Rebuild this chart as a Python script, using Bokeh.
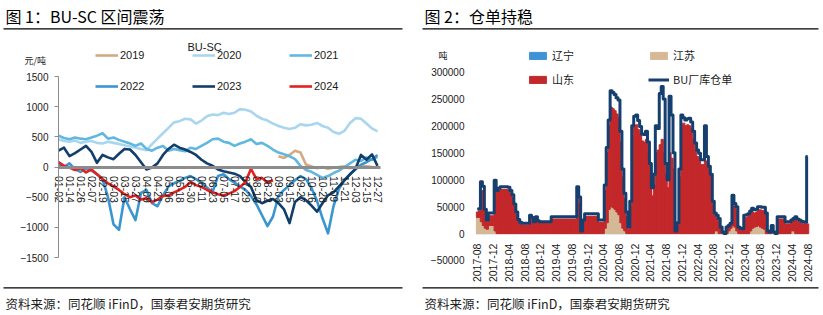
import math
from bokeh.plotting import figure
from bokeh.models import (ColumnDataSource, Range1d, FixedTicker, Legend, LegendItem,
                          Label, BoxAnnotation, LinearAxis, BasicTickFormatter)
from bokeh.layouts import row
from bokeh.embed import file_html
from bokeh.resources import INLINE

CJK = "Noto Sans CJK SC"
NUM = "Liberation Sans"

# ---------------- Figure 1 data: BU-SC spread (yuan/ton) ----------------
day_labels = ["01-02", "01-14", "01-26", "02-07", "02-19", "03-03", "03-15", "03-27",
              "04-09", "04-21", "05-06", "05-18", "05-30", "06-11", "06-23", "07-05",
              "07-17", "07-29", "08-10", "08-22", "09-03", "09-15", "09-27", "10-16",
              "10-28", "11-09", "11-21", "12-03", "12-15", "12-27"]
label_every = 8      # trading-day index step between tick labels
sample_every = 4     # trading-day index step between values below

s2019 = [180, 150, 200, 270, 240, 40, 10, -20, 0, -30,
         -10, 0, 10, -20, 0, 20, 10, 0, -10]
s2019_start = 40     # first sample number of 2019 series

s2020 = [460, 430, 420, 440, 400, 420, 430, 400, 390, 420,
         400, 380, 360, 340, 320, 300, 280, 380, 470, 560,
         650, 740, 760, 800, 790, 720, 770, 840, 870, 860,
         900, 880, 900, 960, 950, 920, 850, 800, 770, 720,
         680, 650, 630, 650, 710, 690, 700, 730, 680, 650,
         580, 550, 600, 730, 810, 800, 720, 640, 590]
s2021 = [520, 480, 460, 490, 470, 460, 490, 520, 560, 470,
         490, 450, 420, 390, 350, 390, 300, 270, 320, 350,
         270, 300, 280, 260, 320, 300, 350, 400, 460, 470,
         420, 400, 350, 390, 420, 460, 380, 400, 350, 290,
         240, 210, 180, 130, 20, -50, -80, -130, -180, -150,
         -100, -60, 0, 60, 120, 100, 160, 120, 170]
s2022 = [30, 0, 60, -40, -80, -30, -60, -120, -200, -500,
         -950, -1040, -500, -700, -880, -430, -380, -600, -650, -470,
         -320, -270, -230, -180, -150, -200, -270, -340, -420, -150,
         -120, -200, -260, -320, -380, -480, -620, -800, -980, -820,
         -480, -380, -300, -220, -150, -200, -350, -560, -850, -1100,
         -650, -360, -210, -120, -40, 40, 80, 130, 200]
s2023 = [270, 320, 180, 230, 290, 350, 250, 70, 200, 160,
         130, 220, 300, 290, 200, 80, -40, -10, 60, 200,
         300, 370, 320, 290, 250, 200, 120, 60, 20, -40,
         -70, -90, -110, -150, -250, -330, -550, -600, -560, -530,
         -600, -700, -930, -580, -500, -550, -640, -740, -600, -470,
         -420, -320, -220, -120, -30, 200, 120, 210, 20]
s2024 = [80, 20, -10, -50, -20, -90, -40, -120, -200, -270,
         -320, -380, -450, -500, -470, -540, -520, -580, -540, -480,
         -470, -420, -380, -330, -250, -300, -330, -380, -420, -450,
         -470, -440, -400, -330, -250, -30, -200, -180, -260, -220]
y1_ticks = [-1500, -1000, -500, 0, 500, 1000, 1500]

# ---------------- Figure 2 data: BU warehouse receipts (tons), half-monthly ----------------
month_labels = ["2017-08", "2017-12", "2018-04", "2018-08", "2018-12", "2019-04",
                "2019-08", "2019-12", "2020-04", "2020-08", "2020-12", "2021-04",
                "2021-08", "2021-12", "2022-04", "2022-08", "2022-12", "2023-04",
                "2023-08", "2023-12", "2024-04", "2024-08"]
months_per_label = 4
liaoning = [0, 0, 0, 0, 0, 0, 0, 0, 0, 0,
            0, 0, 0, 0, 0, 0, 0, 0, 0, 0,
            0, 0, 0, 0, 0, 0, 0, 0, 0, 0,
            0, 0, 0, 0, 0, 0, 0, 0, 0, 0,
            0, 0, 0, 0, 0, 0, 0, 0, 0, 0,
            0, 0, 0, 0, 0, 0, 0, 0, 0, 0,
            0, 0, 0, 0, 0, 0, 0, 0, 0, 0,
            0, 0, 0, 0, 0, 0, 0, 0, 0, 0,
            0, 0, 0, 0, 0, 0, 0, 0, 0, 0,
            0, 0, 0, 0, 0, 0, 0, 0, 0, 0,
            0, 0, 0, 0, 0, 0, 0, 0, 0, 0,
            0, 0, 0, 0, 0, 0, 0, 0, 0, 0,
            0, 0, 0, 0, 0, 0, 0, 0, 0, 0,
            0, 0, 0, 0, 0, 0, 0, 0, 0, 0,
            0, 0, 0, 0, 0, 0, 0, 0, 0, 0,
            0, 0, 0, 0, 0, 0, 0, 0, 0, 0,
            0, 0, 0, 0, 0, 0, 0, 0, 0]
jiangsu = [30000, 30000, 22000, 15000, 10000, 8000, 15000, 15000, 15000, 5000,
           0, 0, 0, 0, 0, 0, 0, 0, 0, 0,
           0, 0, 0, 0, 0, 0, 0, 0, 0, 0,
           0, 0, 0, 0, 0, 0, 0, 0, 0, 0,
           0, 0, 0, 0, 0, 0, 0, 0, 0, 0,
           0, 0, 0, 0, 0, 0, 0, 0, 0, 0,
           0, 0, 0, 0, 0, 10000, 20000, 45000, 50000, 48000,
           45000, 40000, 35000, 20000, 10000, 5000, 0, 0, 0, 0,
           0, 0, 0, 0, 0, 0, 0, 0, 0, 0,
           0, 0, 0, 0, 0, 0, 0, 0, 0, 0,
           0, 0, 0, 0, 0, 0, 0, 0, 0, 0,
           0, 0, 0, 0, 0, 0, 0, 0, 0, 0,
           0, 5000, 5000, 0, 0, 0, 0, 0, 5000, 10000,
           15000, 12000, 5000, 0, 0, 0, 0, 0, 0, 5000,
           10000, 12000, 13000, 15000, 12000, 10000, 8000, 0, 0, 0,
           3000, 0, 0, 0, 0, 0, 0, 0, 0, 0,
           5000, 5000, 0, 0, 0, 0, 0, 0, 0]
shandong = [10000, 12000, 58000, 65000, 30000, 14000, 18000, 18000, 18000, 87000,
            76000, 80000, 82000, 82000, 82000, 82000, 81000, 75000, 67000, 50000,
            35000, 22000, 17000, 16000, 16000, 16000, 16000, 28000, 26000, 19000,
            27000, 21000, 19000, 19000, 19000, 19000, 19000, 19000, 27000, 27000,
            27000, 27000, 27000, 27000, 27000, 27000, 27000, 27000, 27000, 27000,
            27000, 70000, 55000, 3000, 20000, 32000, 32000, 32000, 32000, 32000,
            32000, 32000, 21000, 21000, 21000, 70000, 130000, 155000, 185000, 184000,
            183000, 182000, 180000, 150000, 95000, 60000, 32000, 8000, 50000, 180000,
            200000, 202000, 193000, 185000, 172000, 170000, 175000, 150000, 110000, 70000,
            90000, 150000, 155000, 165000, 175000, 150000, 110000, 85000, 150000, 140000,
            120000, 3000, 15000, 105000, 200000, 205000, 200000, 202000, 200000, 195000,
            175000, 155000, 143000, 138000, 128000, 128000, 135000, 130000, 115000, 100000,
            52000, 27000, 23000, 22000, 8000, 1000, 0, 8000, 6000, 5000,
            47000, 38000, 39000, 9000, 7000, 6000, 29000, 30000, 32000, 32000,
            30000, 26000, 27000, 29000, 32000, 33000, 35000, 33000, 3000, 1000,
            9000, 1000, 0, 27000, 27000, 27000, 27000, 18000, 18000, 18000,
            16000, 19000, 27000, 23000, 21000, 19000, 18000, 18000, 18000]
bu_total = [45000, 46000, 96000, 88000, 45000, 25000, 38000, 38000, 38000, 99000,
            80000, 84000, 87000, 87000, 87000, 87000, 86000, 80000, 72000, 55000,
            40000, 26000, 21000, 19000, 19000, 19000, 19000, 34000, 30000, 22000,
            31000, 24000, 22000, 22000, 22000, 22000, 22000, 22000, 31000, 31000,
            31000, 31000, 31000, 31000, 31000, 31000, 31000, 31000, 31000, 31000,
            31000, 87000, 68000, 5000, 25000, 37000, 37000, 37000, 37000, 37000,
            37000, 37000, 25000, 25000, 25000, 90000, 160000, 211000, 265000, 262000,
            258000, 252000, 248000, 190000, 120000, 75000, 40000, 12000, 60000, 200000,
            218000, 220000, 210000, 199000, 185000, 184000, 190000, 170000, 130000, 85000,
            110000, 200000, 195000, 260000, 273000, 250000, 130000, 100000, 255000, 220000,
            150000, 5000, 20000, 120000, 220000, 215000, 211000, 213000, 214000, 207000,
            190000, 168000, 155000, 149000, 137000, 137000, 200000, 143000, 125000, 110000,
            60000, 38000, 34000, 28000, 12000, 3000, 0, 12000, 15000, 19000,
            71000, 56000, 50000, 12000, 10000, 9000, 34000, 35000, 37000, 42000,
            47000, 44000, 45000, 50000, 50000, 49000, 49000, 38000, 5000, 3000,
            15000, 3000, 0, 31000, 31000, 31000, 31000, 22000, 22000, 22000,
            25000, 28000, 31000, 27000, 25000, 23000, 22000, 21000, 143000]
y2_ticks = [-50000, 0, 50000, 100000, 150000, 200000, 250000, 300000]

# ---------------- styles ----------------
C2019, C2020, C2021, C2022, C2023, C2024 = "#D4AA82", "#A9D6EF", "#62B7E0", "#3A96D3", "#123E6C", "#E3211E"
C_LN, C_JS, C_SD, C_BU = "#3D93D5", "#D5B997", "#C3282B", "#153F6E"
AX = "#8C8C8C"
TXT = "#1a1a1a"


def base_fig(w, xr, yr):
    p = figure(width=w, height=315, x_range=xr, y_range=yr,
               output_backend="svg", toolbar_location=None, title=None,
               x_axis_location=None, y_axis_location=None, min_border=0)
    p.outline_line_color = None
    p.background_fill_color = "white"
    p.border_fill_color = "white"
    p.grid.grid_line_color = None
    return p


def add_frame_texts(p, title, rule_left, rule_right):
    p.add_layout(Label(x=rule_left + 2, y=15, x_units="canvas", y_units="canvas", text=title,
                       text_font=CJK, text_font_size="16px", text_baseline="middle",
                       text_color="#000000"))
    p.add_layout(Label(x=rule_left + 2, y=303, x_units="canvas", y_units="canvas",
                       text="资料来源：同花顺 iFinD，国泰君安期货研究",
                       text_font=CJK, text_font_size="12.5px", text_baseline="middle",
                       text_color="#222222"))
    for yy in (28.3, 287.3):
        p.add_layout(BoxAnnotation(left=rule_left, right=rule_right, top=yy - 0.6, bottom=yy + 0.6,
                                   left_units="canvas", right_units="canvas",
                                   top_units="canvas", bottom_units="canvas",
                                   fill_color="#000000", fill_alpha=1, line_color=None))


# ---------------- Figure 1 ----------------
p1 = base_fig(411, Range1d(-42.18, 256.73), Range1d(-2461, 2760))

ya = LinearAxis(fixed_location=0, ticker=FixedTicker(ticks=y1_ticks), bounds=(-1500, 1500))
ya.axis_line_color = AX
ya.major_tick_line_color = AX
ya.major_tick_out = 4
ya.major_tick_in = 0
ya.minor_tick_line_color = None
ya.major_label_text_font = NUM
ya.major_label_text_font_size = "10px"
ya.major_label_text_color = TXT
ya.major_label_standoff = 6
p1.add_layout(ya, "left")

xa = LinearAxis(fixed_location=0,
                ticker=FixedTicker(ticks=[i * label_every for i in range(len(day_labels))]),
                bounds=(0, (len(day_labels) - 1) * label_every + 2))
xa.major_label_overrides = {i * label_every: lab for i, lab in enumerate(day_labels)}
xa.axis_line_color = AX
xa.axis_line_width = 3
xa.major_tick_line_color = None
xa.minor_tick_line_color = None
xa.major_label_orientation = -math.pi / 2
xa.major_label_text_font = NUM
xa.major_label_text_font_size = "10.5px"
xa.major_label_text_color = TXT
xa.major_label_standoff = 3
p1.add_layout(xa, "below")


def xs(n, start=0):
    return [(start + k) * sample_every for k in range(n)]


series = [("2019", s2019, s2019_start, C2019), ("2020", s2020, 0, C2020),
          ("2021", s2021, 0, C2021), ("2022", s2022, 0, C2022),
          ("2023", s2023, 0, C2023), ("2024", s2024, 0, C2024)]
items1 = []
for name, vals, st, col in series:
    r = p1.line(xs(len(vals), st), vals, line_color=col, line_width=2.6, line_join="round")
    items1.append(LegendItem(label=name, renderers=[r]))

leg1 = Legend(items=items1, orientation="horizontal", ncols=3, location=(95, 219),
              glyph_width=23, glyph_height=20, label_height=20, label_width=61,
              label_standoff=2, spacing=11, padding=0, margin=0,
              border_line_color=None, background_fill_alpha=0,
              label_text_font=NUM, label_text_font_size="11px", label_text_color=TXT)
p1.add_layout(leg1, "center")

p1.add_layout(Label(x=187, y=46, x_units="canvas", y_units="canvas", text="BU-SC",
                    text_font=NUM, text_font_size="11px", text_baseline="middle", text_color=TXT))
p1.add_layout(Label(x=24, y=60, x_units="canvas", y_units="canvas", text="元/吨",
                    text_font=CJK, text_font_size="9px", text_baseline="middle", text_color=TXT))
add_frame_texts(p1, "图 1：BU-SC 区间震荡", 3, 402)

# ---------------- Figure 2 ----------------
n2 = len(bu_total)
src2 = ColumnDataSource(dict(m=[h / 2 for h in range(n2)], liaoning=liaoning, jiangsu=jiangsu,
                             shandong=shandong, total=bu_total))

p2 = base_fig(412, Range1d(-16.79, 88.04), Range1d(-152130, 432770))

ya2 = LinearAxis(fixed_location=-1.27, ticker=FixedTicker(ticks=y2_ticks),
                 formatter=BasicTickFormatter(use_scientific=False))
ya2.axis_line_color = None
ya2.major_tick_line_color = None
ya2.minor_tick_line_color = None
ya2.major_label_text_font = NUM
ya2.major_label_text_font_size = "10px"
ya2.major_label_text_color = TXT
ya2.major_label_standoff = 2
p2.add_layout(ya2, "left")

xa2 = LinearAxis(fixed_location=0,
                 ticker=FixedTicker(ticks=[i * months_per_label for i in range(len(month_labels))]))
xa2.major_label_overrides = {i * months_per_label: lab for i, lab in enumerate(month_labels)}
xa2.axis_line_color = None
xa2.major_tick_line_color = None
xa2.minor_tick_line_color = None
xa2.major_label_orientation = math.pi / 2
xa2.major_label_text_font = NUM
xa2.major_label_text_font_size = "10.5px"
xa2.major_label_text_color = TXT
xa2.major_label_standoff = 4
p2.add_layout(xa2, "below")

bars = p2.vbar_stack(["liaoning", "jiangsu", "shandong"], x="m", width=0.56, source=src2,
                     color=[C_LN, C_JS, C_SD], line_width=1)
bu = p2.step(x="m", y="total", mode="center", source=src2, line_color=C_BU, line_width=3,
             line_join="round")

items2 = [LegendItem(label="辽宁", renderers=[bars[0]]),
          LegendItem(label="江苏", renderers=[bars[1]]),
          LegendItem(label="山东", renderers=[bars[2]]),
          LegendItem(label="BU厂库仓单", renderers=[bu])]
leg2 = Legend(items=items2, orientation="horizontal", ncols=2, location=(116, 228),
              glyph_width=21, glyph_height=9, label_height=9, label_width=88,
              label_standoff=4, spacing=8, padding=0, margin=0,
              border_line_color=None, background_fill_alpha=0,
              label_text_font=CJK, label_text_font_size="11px", label_text_color=TXT)
p2.add_layout(leg2, "center")
p2.add_layout(Label(x=27, y=55, x_units="canvas", y_units="canvas", text="吨",
                    text_font=CJK, text_font_size="9px", text_baseline="middle", text_color=TXT))
add_frame_texts(p2, "图 2：仓单持稳", 11, 407)

layout = row(p1, p2)
open("out.html", "w").write(file_html(layout, INLINE))
